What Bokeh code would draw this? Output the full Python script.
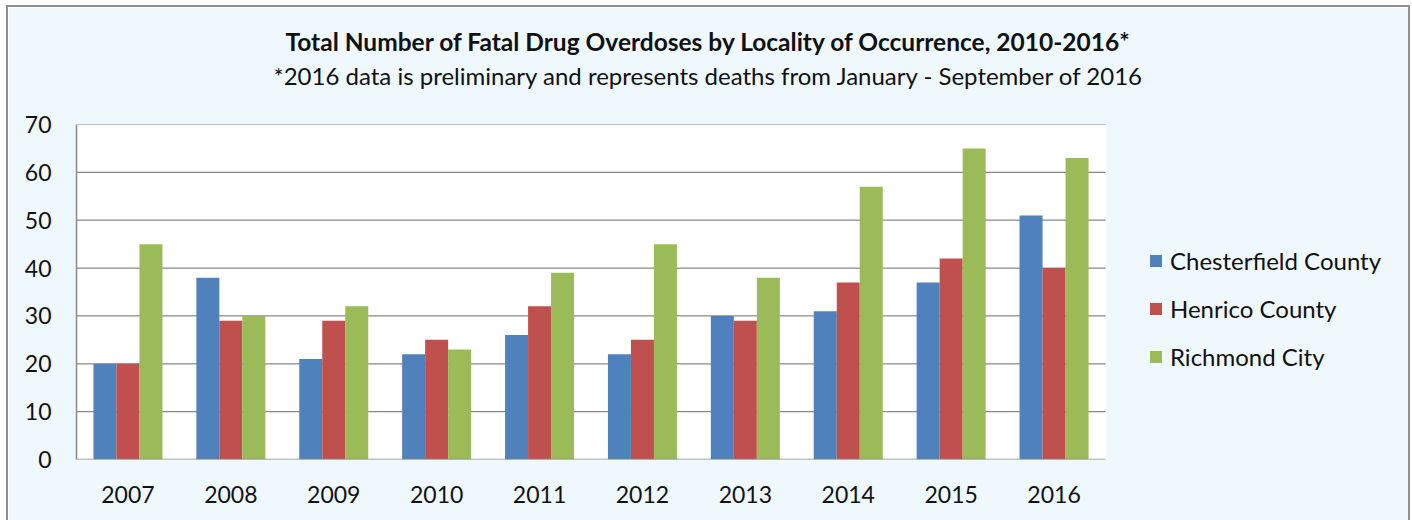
from bokeh.plotting import figure
from bokeh.models import (Range1d, FixedTicker, Legend, LegendItem,
                          Title, ColumnDataSource)
from bokeh.transform import dodge
from bokeh.embed import file_html
from bokeh.resources import INLINE

years = ["2007", "2008", "2009", "2010", "2011", "2012", "2013", "2014", "2015", "2016"]
chesterfield = [20, 38, 21, 22, 26, 22, 30, 31, 37, 51]
henrico = [20, 29, 29, 25, 32, 25, 29, 37, 42, 40]
richmond = [45, 30, 32, 23, 39, 45, 38, 57, 65, 63]
series_names = ["Chesterfield County", "Henrico County", "Richmond City"]
colors = ["#4F81BD", "#C0504D", "#9BBB59"]
y_ticks = [0, 10, 20, 30, 40, 50, 60, 70]

title_text = "Total Number of Fatal Drug Overdoses by Locality of Occurrence, 2010-2016*"
subtitle_text = "*2016 data is preliminary and represents deaths from January - September of 2016"

FONT = "Lato"
BG = "#EEF8FD"
GRID = "#898989"
TXT = "#111111"

n = len(years)
xc = list(range(n))
PLOT_W = 1029      # width of the bar area in px
FRAME_W = 1332     # frame also holds the legend area on the right
x_end = -0.5 + n * FRAME_W / PLOT_W

src = ColumnDataSource(dict(xc=xc, c=chesterfield, h=henrico, r=richmond))

p = figure(frame_width=FRAME_W, frame_height=335, output_backend="svg", toolbar_location=None,
           x_range=Range1d(-0.5, x_end), y_range=Range1d(y_ticks[0], y_ticks[-1]),
           min_border_left=68, min_border_right=0, min_border_top=117,
           min_border_bottom=61)
p.styles = {"outline": "2px solid #8E8E8E", "margin-left": "8px", "margin-top": "7px"}
p.background_fill_color = BG
p.border_fill_color = BG
p.outline_line_color = None

# white plot area and horizontal gridlines limited to the bar area
p.quad(left=-0.5, right=n - 0.5, bottom=y_ticks[0], top=y_ticks[-1],
       fill_color="white", line_color=None)
p.segment(x0=[-0.5] * (len(y_ticks) - 1), x1=[n - 0.5] * (len(y_ticks) - 1),
          y0=y_ticks[1:], y1=y_ticks[1:], line_color=GRID, line_width=1.2)

bw = 0.2235
renderers = []
for i, (col, color) in enumerate(zip(["c", "h", "r"], colors)):
    r = p.vbar(x=dodge("xc", (i - 1) * bw), top=col, width=bw,
               bottom=0, source=src, fill_color=color, line_color=None)
    renderers.append(r)

# x axis baseline (only under the bars)
p.segment(x0=[-0.5], x1=[n - 0.5], y0=[y_ticks[0]], y1=[y_ticks[0]],
          line_color=GRID, line_width=1.6)

# axes
p.yaxis.ticker = FixedTicker(ticks=y_ticks)
p.xaxis.ticker = FixedTicker(ticks=xc)
p.xaxis.major_label_overrides = {i: y for i, y in zip(xc, years)}
for ax in (p.xaxis, p.yaxis):
    ax.major_tick_line_color = None
    ax.minor_tick_line_color = None
    ax.major_label_text_font = FONT
    ax.major_label_text_font_size = "23px"
    ax.major_label_text_color = TXT
p.xaxis.axis_line_color = None
p.yaxis.axis_line_color = GRID
p.yaxis.axis_line_width = 1.5
p.yaxis.major_label_standoff = 19
p.xaxis.major_label_standoff = 20
p.grid.grid_line_color = None

# titles: spacer, subtitle, title (stacked outward from the plot)
p.add_layout(Title(text=" ", text_font=FONT, text_font_size="1px", standoff=32), "above")
p.add_layout(Title(text=subtitle_text, align="left", offset=197, standoff=0,
                   text_font=FONT, text_font_style="normal", text_font_size="24px",
                   text_color=TXT), "above")
p.add_layout(Title(text=title_text, align="left", offset=209, standoff=5,
                   text_font=FONT, text_font_style="bold", text_font_size="24.5px",
                   text_color=TXT), "above")

legend = Legend(items=[LegendItem(label=s, renderers=[r]) for s, r in zip(series_names, renderers)],
                location=(1072, 88), orientation="vertical",
                border_line_color=None, background_fill_alpha=0,
                padding=0, margin=0, spacing=19, glyph_width=15, glyph_height=15,
                label_height=22, label_standoff=7,
                label_text_font=FONT, label_text_font_size="24px", label_text_color=TXT)
p.add_layout(legend)

open("out.html", "w").write(file_html(p, INLINE))
